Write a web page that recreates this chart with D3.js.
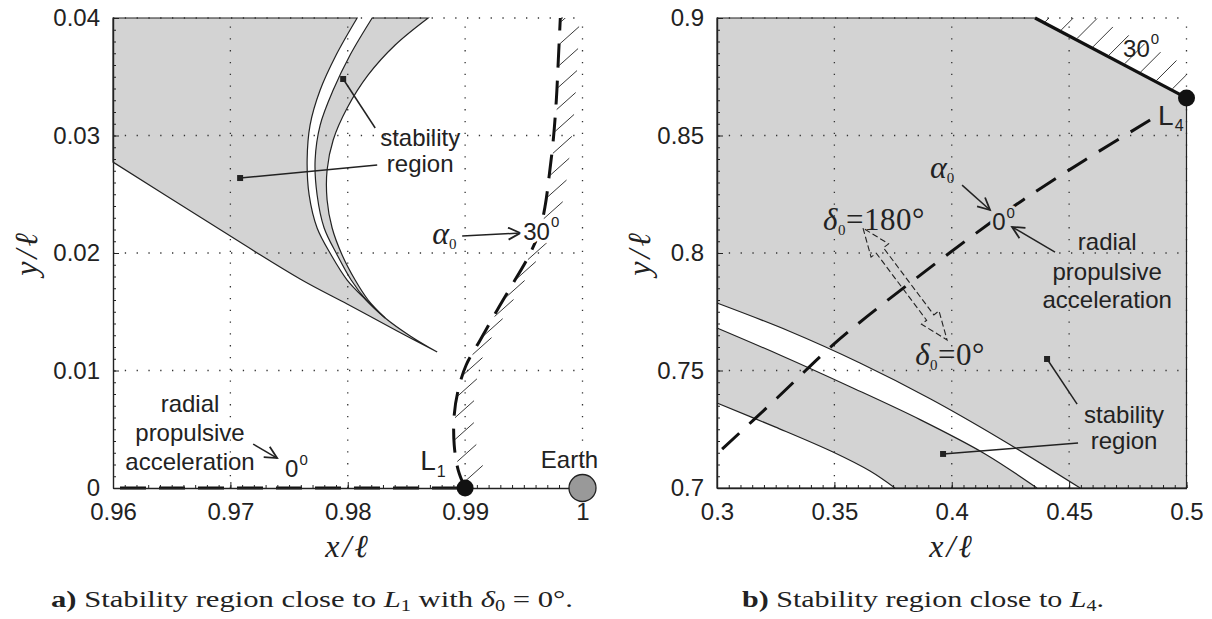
<!DOCTYPE html>
<html>
<head>
<meta charset="utf-8">
<script src="https://cdn.jsdelivr.net/npm/d3@7"></script>
<style>
body { margin: 0; background: #fff; }
text { fill: #222; }
.sans { font-family: "Liberation Sans", Arial, sans-serif; font-size: 24px; }
.ser { font-family: "Liberation Serif", "Times New Roman", serif; }
.it { font-style: italic; }
</style>
</head>
<body>
<svg id="fig" width="1212" height="619"></svg>
<script>
// panel a: close to L1
var xTicksA = [0.96, 0.97, 0.98, 0.99, 1];
var xTickLabelsA = ["0.96", "0.97", "0.98", "0.99", "1"];
var yTicksA = [0, 0.01, 0.02, 0.03, 0.04];
var yTickLabelsA = ["0", "0.01", "0.02", "0.03", "0.04"];

// boundaries of the stability region (x/l, y/l)
var arcA = [[0.98080, 0.04], [0.97901, 0.03685], [0.97765, 0.03387], [0.97679, 0.03089], [0.97654, 0.02791],
  [0.97671, 0.02494], [0.97739, 0.02213], [0.97859, 0.01983], [0.97995, 0.01770], [0.98157, 0.01600],
  [0.98319, 0.01447], [0.98532, 0.01294], [0.98762, 0.01157]];
var arcB = [[0.98208, 0.04], [0.98020, 0.03685], [0.97876, 0.03387], [0.97765, 0.03089], [0.97722, 0.02791],
  [0.97739, 0.02494], [0.97799, 0.02213], [0.97910, 0.01983], [0.98029, 0.01770], [0.98157, 0.01600],
  [0.98319, 0.01447]];
var arcC = [[0.98685, 0.04], [0.98404, 0.03770], [0.98174, 0.03515], [0.97995, 0.03234], [0.97876, 0.02962],
  [0.97824, 0.02706], [0.97824, 0.02451], [0.97867, 0.02213], [0.97952, 0.01983], [0.98063, 0.01770],
  [0.98174, 0.01600], [0.98319, 0.01447]];
var lowerA = [[0.96, 0.02774], [0.96742, 0.02306], [0.97594, 0.01779], [0.97995, 0.01566], [0.98421, 0.01336], [0.98762, 0.01157]];

// alpha0 = 30 deg and alpha0 = 0 deg curves
var alpha30A = [[0.99000, 0.0], [0.98941, 0.00153], [0.98907, 0.00366], [0.98907, 0.00621], [0.98941, 0.00834],
  [0.99009, 0.01047], [0.99129, 0.01260], [0.99274, 0.01515], [0.99410, 0.01745], [0.99538, 0.01966],
  [0.99632, 0.02179], [0.99683, 0.02409], [0.99717, 0.02664], [0.99751, 0.02962], [0.99777, 0.03302],
  [0.99794, 0.03643], [0.99811, 0.04]];
var alpha0A = [[0.96, 0], [0.99, 0]];
var L1 = [0.99, 0];
var earth = [1, 0];

// panel b: close to L4
var xTicksB = [0.3, 0.35, 0.4, 0.45, 0.5];
var xTickLabelsB = ["0.3", "0.35", "0.4", "0.45", "0.5"];
var yTicksB = [0.7, 0.75, 0.8, 0.85, 0.9];
var yTickLabelsB = ["0.7", "0.75", "0.8", "0.85", "0.9"];

var bandUpper = [[0.3, 0.7787], [0.3311, 0.7666], [0.3609, 0.7532], [0.3908, 0.7380], [0.4206, 0.7210], [0.4547, 0.7]];
var bandLower = [[0.3, 0.7681], [0.3268, 0.7566], [0.3567, 0.7431], [0.3865, 0.7291], [0.4142, 0.7145], [0.4363, 0.7]];
var cornerCurve = [[0.3, 0.7362], [0.3247, 0.7260], [0.3494, 0.7153], [0.3652, 0.7072], [0.3758, 0.7]];
var alpha0B = [[0.4845, 0.8566], [0.4568, 0.8396], [0.4304, 0.8226], [0.4099, 0.8081], [0.3895, 0.7928],
  [0.3695, 0.7774], [0.3494, 0.7609], [0.3256, 0.7383], [0.3004, 0.7149]];
var line30B = [[0.4355, 0.9], [0.5, 0.866]];
var L4 = [0.5, 0.866];

var svg = d3.select("#fig");
svg.append("rect").attr("width", 1212).attr("height", 619).attr("fill", "#fff");

var defs = svg.append("defs");
defs.append("marker").attr("id", "arr")
  .attr("markerUnits", "userSpaceOnUse")
  .attr("markerWidth", 16).attr("markerHeight", 16)
  .attr("refX", 13).attr("refY", 7).attr("orient", "auto")
  .append("path").attr("d", "M1,1 L13,7 L1,13")
  .attr("fill", "none").attr("stroke", "#222").attr("stroke-width", 1.8);
defs.append("marker").attr("id", "sq")
  .attr("markerUnits", "userSpaceOnUse")
  .attr("markerWidth", 8).attr("markerHeight", 8)
  .attr("refX", 3).attr("refY", 3)
  .append("rect").attr("width", 6).attr("height", 6).attr("fill", "#222");

var gray = "#d3d3d3", ink = "#222";

var xA = d3.scaleLinear().domain([0.96, 1]).range([113, 582.5]);
var yA = d3.scaleLinear().domain([0, 0.04]).range([488, 18]);
var xB = d3.scaleLinear().domain([0.3, 0.5]).range([717, 1186.5]);
var yB = d3.scaleLinear().domain([0.7, 0.9]).range([488, 18]);

function liner(x, y, curve) {
  return d3.line().x(function(d) { return x(d[0]); }).y(function(d) { return y(d[1]); }).curve(curve || d3.curveLinear);
}
// join several open pieces into one closed outline
function joined(pieces) {
  return pieces.map(function(p, i) { return i ? p.replace(/^M/, "L") : p; }).join("") + "Z";
}
function rev(a) { return a.slice().reverse(); }

function clipFor(id, x, y) {
  defs.append("clipPath").attr("id", id).append("rect")
    .attr("x", x.range()[0]).attr("y", y.range()[1])
    .attr("width", x.range()[1] - x.range()[0]).attr("height", y.range()[0] - y.range()[1]);
}

function drawGrid(g, x, y, xt, yt) {
  var grid = g.append("g").attr("stroke", "#333").attr("stroke-width", 1.3)
    .attr("stroke-dasharray", "1.3,10.5");
  xt.slice(1).forEach(function(v) {
    grid.append("line").attr("x1", x(v)).attr("x2", x(v)).attr("y1", y.range()[0]).attr("y2", y.range()[1]);
  });
  yt.slice(1).forEach(function(v) {
    grid.append("line").attr("y1", y(v)).attr("y2", y(v)).attr("x1", x.range()[0]).attr("x2", x.range()[1]);
  });
}

function drawAxes(g, x, y, xt, xtl, yt, ytl) {
  var h = y.range()[0], l = x.range()[0];
  // minor ticks
  g.append("g").attr("transform", "translate(0," + h + ")")
    .call(d3.axisBottom(x).ticks(40).tickSize(-3).tickSizeOuter(0).tickFormat(""))
    .call(function(s) { s.select(".domain").remove(); s.selectAll("line").attr("stroke", ink); });
  g.append("g").attr("transform", "translate(" + l + ",0)")
    .call(d3.axisLeft(y).ticks(40).tickSize(-3).tickSizeOuter(0).tickFormat(""))
    .call(function(s) { s.select(".domain").remove(); s.selectAll("line").attr("stroke", ink); });
  var ax = g.append("g").attr("transform", "translate(0," + h + ")")
    .call(d3.axisBottom(x).tickValues(xt).tickSize(-6).tickSizeOuter(0).tickPadding(15)
      .tickFormat(function(d, i) { return xtl[i]; }));
  var ay = g.append("g").attr("transform", "translate(" + l + ",0)")
    .call(d3.axisLeft(y).tickValues(yt).tickSize(-6).tickSizeOuter(0).tickPadding(13)
      .tickFormat(function(d, i) { return ytl[i]; }));
  [ax, ay].forEach(function(a) {
    a.attr("font-family", null).attr("font-size", null);
    a.select(".domain").attr("stroke", ink).attr("stroke-width", 1.4);
    a.selectAll("line").attr("stroke", ink);
    a.selectAll("text").attr("class", "sans").style("font-size", "24px").attr("fill", ink);
  });
}

function txt(g, x, y, parts, anchor) {
  var t = g.append("text").attr("x", x).attr("y", y).attr("text-anchor", anchor || "start");
  parts.forEach(function(p) {
    var s = t.append("tspan").text(p.t);
    if (p.c) s.attr("class", p.c);
    if (p.fs) s.style("font-size", p.fs + "px");
    if (p.dy) s.attr("dy", p.dy);
    if (p.dx) s.attr("dx", p.dx);
    if (p.w) s.attr("font-weight", p.w);
  });
  return t;
}

function arrow(g, x1, y1, x2, y2, w) {
  g.append("line").attr("x1", x1).attr("y1", y1).attr("x2", x2).attr("y2", y2)
    .attr("stroke", ink).attr("stroke-width", w || 1.5).attr("marker-end", "url(#arr)");
}
function leader(g, x1, y1, x2, y2) {
  g.append("line").attr("x1", x1).attr("y1", y1).attr("x2", x2).attr("y2", y2)
    .attr("stroke", ink).attr("stroke-width", 1.5).attr("marker-end", "url(#sq)");
}

// ================= panel a =================
var gA = svg.append("g");
clipFor("clipA", xA, yA);
var smA = liner(xA, yA, d3.curveCatmullRom);
var linA = liner(xA, yA);

var regionMain = joined([
  linA([[0.96, 0.04], arcA[0]]),
  smA(arcA),
  smA(rev(lowerA))
]);
var regionBand = joined([smA(arcB), smA(rev(arcC))]);

gA.append("path").attr("d", regionMain).attr("fill", gray);
gA.append("path").attr("d", regionBand).attr("fill", gray);
drawGrid(gA, xA, yA, xTicksA, yTicksA);
gA.append("path").attr("d", regionMain).attr("fill", "none").attr("stroke", ink).attr("stroke-width", 1.2);
gA.append("path").attr("d", regionBand).attr("fill", "none").attr("stroke", ink).attr("stroke-width", 1.2);

// hatched 30 deg curve
var c30 = gA.append("path").attr("d", smA(alpha30A)).attr("fill", "none")
  .attr("stroke", "#111").attr("stroke-width", 3).attr("stroke-dasharray", "24,13");
var hatchA = gA.append("g").attr("clip-path", "url(#clipA)").attr("stroke", ink).attr("stroke-width", 0.9);
var node = c30.node(), total = node.getTotalLength();
for (var s = 6; s < total; s += 22) {
  var p = node.getPointAtLength(s);
  hatchA.append("line").attr("x1", p.x + 1).attr("y1", p.y).attr("x2", p.x + 20).attr("y2", p.y - 17);
}
gA.append("path").attr("d", linA(alpha0A)).attr("fill", "none")
  .attr("stroke", "#111").attr("stroke-width", 3).attr("stroke-dasharray", "26,13").attr("stroke-dashoffset", -7);

drawAxes(gA, xA, yA, xTicksA, xTickLabelsA, yTicksA, yTickLabelsA);

gA.append("circle").attr("cx", xA(earth[0])).attr("cy", yA(earth[1])).attr("r", 13.5)
  .attr("fill", "#999").attr("stroke", ink).attr("stroke-width", 1.3);
gA.append("circle").attr("cx", xA(L1[0])).attr("cy", yA(L1[1])).attr("r", 8.5).attr("fill", "#111");

// labels panel a
txt(gA, xA(0.98617), yA(0.02911), [{ t: "stability" }], "middle").attr("class", "sans");
txt(gA, xA(0.98617), yA(0.02706) + 2, [{ t: "region" }], "middle").attr("class", "sans");
leader(gA, xA(0.98234), yA(0.03064), xA(0.97961), yA(0.03481));
leader(gA, xA(0.98251), yA(0.02749), xA(0.97083), yA(0.02638));

txt(gA, xA(0.98720), yA(0.02077), [{ t: "α", c: "ser it", fs: 32 }, { t: "0", c: "ser", fs: 15, dy: 5 }]);
arrow(gA, xA(0.98975), yA(0.02145), xA(0.99470), yA(0.02170));
txt(gA, xA(0.99495), yA(0.02111), [{ t: "30" }, { t: "0", fs: 15, dy: -13, dx: 1 }]).attr("class", "sans")
  .style("paint-order", "stroke").attr("stroke", "#fff").attr("stroke-width", 7);

["radial", "propulsive", "acceleration"].forEach(function(w, i) {
  txt(gA, xA(0.96656), 412 + i * 29, [{ t: w }], "middle").attr("class", "sans");
});
arrow(gA, xA(0.97194), yA(0.00374), xA(0.97398), yA(0.00255));
txt(gA, xA(0.97466), yA(0.00094), [{ t: "0" }, { t: "0", fs: 15, dy: -12, dx: 1 }]).attr("class", "sans");

txt(gA, xA(0.98617), yA(0.00153), [{ t: "L", fs: 28 }, { t: "1", fs: 16, dy: 7, dx: 1 }]).attr("class", "sans");
txt(gA, xA(0.99889), yA(0.0017), [{ t: "Earth" }], "middle").attr("class", "sans");

txt(gA, 348, 557, [{ t: "x/ℓ" }], "middle").attr("class", "ser it").style("font-size", "32px").style("letter-spacing", "3px");
txt(gA, 0, 0, [{ t: "y/ℓ" }], "middle").attr("class", "ser it").style("font-size", "32px").style("letter-spacing", "3px")
  .attr("transform", "translate(37,253) rotate(-90)");

// ================= panel b =================
var gB = svg.append("g");
clipFor("clipB", xB, yB);
var smB = liner(xB, yB, d3.curveCatmullRom);
var linB = liner(xB, yB);

var outerB = linB([[0.3, 0.7], [0.3, 0.9], line30B[0], line30B[1], [0.5, 0.7]]) + "Z";
gB.append("path").attr("d", outerB).attr("fill", gray);
var bandPath = joined([smB(bandUpper), smB(rev(bandLower))]);
gB.append("path").attr("d", bandPath).attr("fill", "#fff");
var cornerPath = joined([smB(cornerCurve), linB([[0.3, 0.7], [0.3, 0.7]])]);
gB.append("path").attr("d", cornerPath).attr("fill", "#fff");

drawGrid(gB, xB, yB, xTicksB, yTicksB);
gB.append("path").attr("d", outerB).attr("fill", "none").attr("stroke", ink).attr("stroke-width", 1.2);
[bandUpper, bandLower, cornerCurve].forEach(function(c) {
  gB.append("path").attr("d", smB(c)).attr("fill", "none").attr("stroke", ink).attr("stroke-width", 1.2);
});

// 30 deg boundary with hatching
gB.append("path").attr("d", linB(line30B)).attr("stroke", "#111").attr("stroke-width", 3.2);
var hatchB = gB.append("g").attr("clip-path", "url(#clipB)").attr("stroke", ink).attr("stroke-width", 0.9);
var h0x = xB(line30B[0][0]), h0y = yB(line30B[0][1]), h1x = xB(line30B[1][0]), h1y = yB(line30B[1][1]);
for (var k = 0.06; k < 1.01; k += 0.105) {
  var px = h0x + k * (h1x - h0x), py = h0y + k * (h1y - h0y);
  hatchB.append("line").attr("x1", px + 1).attr("y1", py - 1).attr("x2", px + 21).attr("y2", py - 21);
}

gB.append("path").attr("d", smB(alpha0B)).attr("fill", "none")
  .attr("stroke", "#111").attr("stroke-width", 3).attr("stroke-dasharray", "23,14");

// hollow dashed double arrow for delta0
(function() {
  var p1 = [xB(0.3622), yB(0.8106)], p2 = [xB(0.3980), yB(0.7630)];
  var dx = p2[0] - p1[0], dy = p2[1] - p1[1], L = Math.hypot(dx, dy);
  var u = [dx / L, dy / L], n = [-u[1], u[0]];
  var hl = 28, hw = 11, sw = 4.5;
  function at(t, o) { return [p1[0] + u[0] * t + n[0] * o, p1[1] + u[1] * t + n[1] * o]; }
  var pts = [at(0, 0), at(hl, hw), at(hl, sw), at(L - hl, sw), at(L - hl, hw), at(L, 0),
    at(L - hl, -hw), at(L - hl, -sw), at(hl, -sw), at(hl, -hw)];
  gB.append("path").attr("d", "M" + pts.join("L") + "Z").attr("fill", "none")
    .attr("stroke", ink).attr("stroke-width", 1.1).attr("stroke-dasharray", "6,3");
})();

drawAxes(gB, xB, yB, xTicksB, xTickLabelsB, yTicksB, yTickLabelsB);

gB.append("circle").attr("cx", xB(L4[0])).attr("cy", yB(L4[1])).attr("r", 8.5).attr("fill", "#111");

// labels panel b
txt(gB, xB(0.4730), yB(0.8834), [{ t: "30" }, { t: "0", fs: 15, dy: -13, dx: 1 }]).attr("class", "sans");
txt(gB, xB(0.4879), yB(0.8545), [{ t: "L", fs: 28 }, { t: "4", fs: 16, dy: 6, dx: 1 }]).attr("class", "sans");

txt(gB, xB(0.3963) - 13, yB(0.8319), [{ t: "α", c: "ser it", fs: 32 }, { t: "0", c: "ser", fs: 15, dy: 5 }]);
arrow(gB, xB(0.4044), yB(0.8289), xB(0.4163), yB(0.8183));
txt(gB, xB(0.4172), yB(0.8098), [{ t: "0" }, { t: "0", fs: 15, dy: -12, dx: 1 }]).attr("class", "sans")
  .style("paint-order", "stroke").attr("stroke", gray).attr("stroke-width", 6);
arrow(gB, xB(0.4440), yB(0.8004), xB(0.4257), yB(0.8111));
txt(gB, xB(0.4662), yB(0.8013), [{ t: "radial" }], "middle").attr("class", "sans");
txt(gB, xB(0.4662), yB(0.7885), [{ t: "propulsive" }], "middle").attr("class", "sans");
txt(gB, xB(0.4662), yB(0.7766), [{ t: "acceleration" }], "middle").attr("class", "sans");

txt(gB, xB(0.4734), yB(0.7277), [{ t: "stability" }], "middle").attr("class", "sans");
txt(gB, xB(0.4734), yB(0.7174) + 2, [{ t: "region" }], "middle").attr("class", "sans");
leader(gB, xB(0.4534), yB(0.7357), xB(0.4406), yB(0.7549));
leader(gB, xB(0.4538), yB(0.7191), xB(0.3963), yB(0.7145));

txt(gB, xB(0.3452), yB(0.8098), [{ t: "δ", c: "it" }, { t: "0", fs: 15, dy: 5 }, { t: "=180°", dy: -5 }])
  .attr("class", "ser").style("font-size", "31px").style("letter-spacing", "0.5px");
txt(gB, xB(0.3844), yB(0.7523), [{ t: "δ", c: "it" }, { t: "0", fs: 15, dy: 5 }, { t: "=0°", dy: -5 }])
  .attr("class", "ser").style("font-size", "31px").style("letter-spacing", "0.5px");

txt(gB, 952, 557, [{ t: "x/ℓ" }], "middle").attr("class", "ser it").style("font-size", "32px").style("letter-spacing", "3px");
txt(gB, 0, 0, [{ t: "y/ℓ" }], "middle").attr("class", "ser it").style("font-size", "32px").style("letter-spacing", "3px")
  .attr("transform", "translate(650,253) rotate(-90)");

// ================= captions =================
var cap = svg.append("g").attr("class", "ser").style("font-size", "24px");
txt(cap, 51, 607, [{ t: "a)", w: "bold" }, { t: " Stability region close to " }, { t: "L", c: "it" },
  { t: "1", fs: 16, dy: 4 }, { t: " with ", dy: -4 }, { t: "δ", c: "it" }, { t: "0", fs: 16, dy: 4 },
  { t: " = 0°.", dy: -4 }]).attr("textLength", 522).attr("lengthAdjust", "spacingAndGlyphs");
txt(cap, 742, 607, [{ t: "b)", w: "bold" }, { t: " Stability region close to " }, { t: "L", c: "it" },
  { t: "4", fs: 16, dy: 4 }, { t: ".", dy: -4 }]).attr("textLength", 362).attr("lengthAdjust", "spacingAndGlyphs");
</script>
</body>
</html>
